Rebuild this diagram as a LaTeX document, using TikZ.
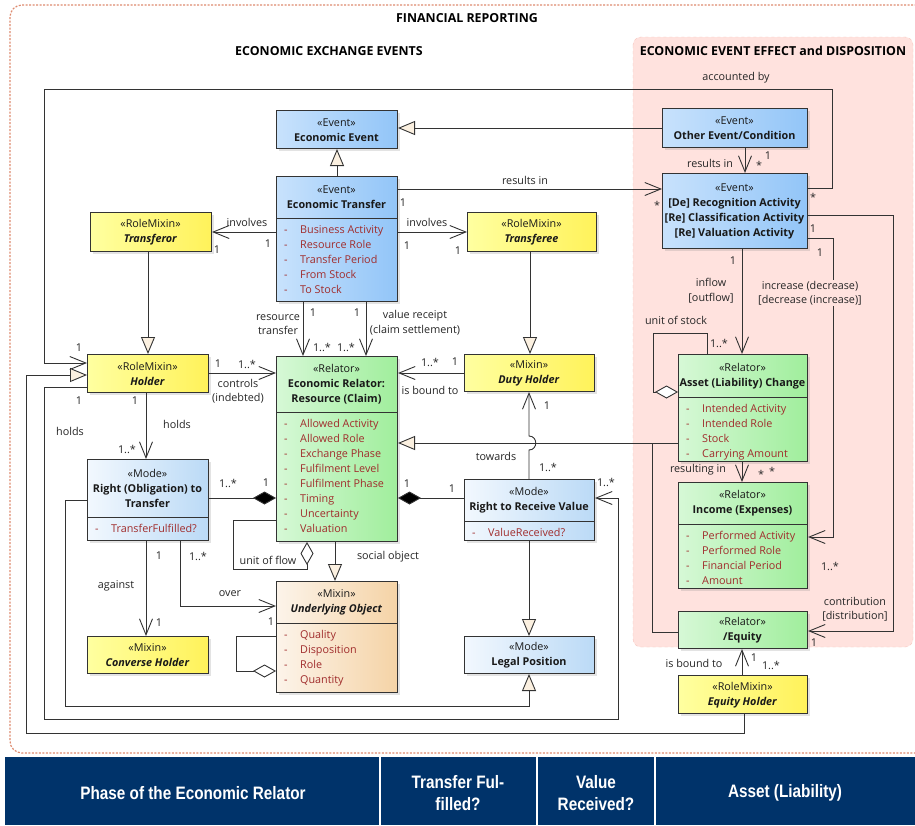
\documentclass[tikz,border=0pt]{standalone}
\usepackage{fontspec}
\setmainfont{Open Sans}
\newfontfamily\bannerfont[FakeStretch=0.85]{Liberation Sans}
\usetikzlibrary{arrows.meta,shadows,calc}
\definecolor{evL}{HTML}{C8E2FC}
\definecolor{evR}{HTML}{92C5F8}
\definecolor{moL}{HTML}{F2F8FE}
\definecolor{moR}{HTML}{BBDAF6}
\definecolor{yeL}{HTML}{FFFFA0}
\definecolor{yeR}{HTML}{FFF25A}
\definecolor{grL}{HTML}{D6F8D6}
\definecolor{grR}{HTML}{A0EE9C}
\definecolor{beL}{HTML}{FCF4EA}
\definecolor{beR}{HTML}{F5D3A6}
\definecolor{genfill}{HTML}{FBF0E0}
\definecolor{attrred}{HTML}{A02C2C}
\definecolor{lnc}{HTML}{333333}
\definecolor{pinkbg}{HTML}{FFE2DE}
\definecolor{pinkbd}{HTML}{F6C4BC}
\definecolor{outerdash}{HTML}{DE8B6F}
\definecolor{navy}{HTML}{00336A}
\newcommand{\st}[1]{«#1»}
\newcommand{\attr}[1]{\makebox[16pt][l]{-}#1}
\newcommand{\lbl}[4]{\node[lbl] (#1) at (#2,#3) {#4};}
\newcommand{\umlbox}[7]{%
  \node[#2, anchor=north west, minimum width=#5-#3, minimum height=#6-#4] (#1) at (#3,#4) {};
  \node[boxtext] (#1-t) at ({(#3+#5)/2},{(#4+#6)/2+1}) {#7};}
\newcommand{\umlclass}[9]{%
  \node[#2, anchor=north west, minimum width=#5-#3, minimum height=#6-#4] (#1) at (#3,#4) {};
  \draw[boxline] (#3,#7) -- (#5,#7);
  \node[boxtext] (#1-h) at ({(#3+#5)/2},{(#4+#7)/2+0.5}) {#8};
  \node[attrtext, anchor=base west] (#1-a) at ({#3+8},{#7+15.5}) {\begin{tabular}[t]{@{}l@{}}#9\end{tabular}};}
\begin{document}
\begin{tikzpicture}[x=1pt,y=-1pt,
  box/.style={draw=black!80, line width=1pt, inner sep=0pt,
    drop shadow={opacity=0.22, shadow xshift=2pt, shadow yshift=-2pt}},
  boxline/.style={draw=black!80, line width=1pt},
  eventbox/.style={box, left color=evL, right color=evR},
  modebox/.style={box, left color=moL, right color=moR},
  rolebox/.style={box, left color=yeL, right color=yeR},
  relbox/.style={box, left color=grL, right color=grR},
  objbox/.style={box, left color=beL, right color=beR},
  boxtext/.style={font=\fontsize{10.8}{15}\selectfont, align=center, inner sep=0pt, text=black!90},
  attrtext/.style={font=\fontsize{10.8}{15}\selectfont, inner sep=0pt, text=attrred},
  lbl/.style={font=\fontsize{10.8}{14.5}\selectfont, inner sep=0pt, text=black!85, align=center},
  ttl/.style={font=\fontsize{12.4}{15}\selectfont\bfseries, inner sep=0pt},
  conn/.style={draw=lnc, line width=0.9pt},
  assoc/.style={conn, -{Straight Barb[length=16pt, width=13pt]}},
  gen/.style={conn, -{Triangle[length=17pt, width=14pt, fill=genfill]}},
  comp/.style={conn, -{Diamond[length=23pt, width=13pt, fill=black]}},
  aggr/.style={conn, -{Diamond[length=23pt, width=13pt, fill=white]}},
  bannertext/.style={font=\bannerfont\bfseries\fontsize{18}{22}\selectfont, text=white, align=center, inner sep=0pt}
]
\path[use as bounding box] (0,0) rectangle (915,825);
\clip (0,0) rectangle (915,825);
\fill[white] (0,0) rectangle (915,825);
% regions
\path[fill=pinkbg, draw=pinkbd, dashed, rounded corners=8] (633,37) rectangle (913,647);
\draw[outerdash, line width=1.2pt, dash pattern=on 2pt off 1.5pt, rounded corners=12] (10,5) rectangle (935,753);
\node[ttl] (t1) at (467,18) {FINANCIAL REPORTING};
\node[ttl] (t2) at (329,51) {ECONOMIC EXCHANGE EVENTS};
\node[ttl] (t3) at (773,51) {ECONOMIC EVENT EFFECT and DISPOSITION};
% boxes
\umlbox{ee}{eventbox}{276}{110}{397}{148}{\st{Event}\\\textbf{Economic Event}}
\umlclass{tr}{eventbox}{276}{176}{397}{301}{218}{\st{Event}\\\textbf{Economic Transfer}}{\attr{Business Activity}\\\attr{Resource Role}\\\attr{Transfer Period}\\\attr{From Stock}\\\attr{To Stock}}
\umlbox{tor}{rolebox}{90}{212}{211}{251}{\st{RoleMixin}\\\textbf{\textit{Transferor}}}
\umlbox{tee}{rolebox}{467}{212}{596}{251}{\st{RoleMixin}\\\textbf{\textit{Transferee}}}
\umlbox{hol}{rolebox}{87}{354}{208}{392}{\st{RoleMixin}\\\textbf{\textit{Holder}}}
\umlclass{rel}{relbox}{276}{356}{397}{541}{412}{\st{Relator}\\\textbf{Economic Relator:}\\\textbf{Resource (Claim)}}{\attr{Allowed Activity}\\\attr{Allowed Role}\\\attr{Exchange Phase}\\\attr{Fulfilment Level}\\\attr{Fulfilment Phase}\\\attr{Timing}\\\attr{Uncertainty}\\\attr{Valuation}}
\umlbox{duty}{rolebox}{464}{354}{594}{391}{\st{Mixin}\\\textbf{\textit{Duty Holder}}}
\umlclass{rot}{modebox}{87}{459}{208}{540}{517}{\st{Mode}\\\textbf{Right (Obligation) to}\\\textbf{Transfer}}{\attr{TransferFulfilled?}}
\umlclass{rrv}{modebox}{464}{479}{594}{540}{521}{\st{Mode}\\\textbf{Right to Receive Value}}{\attr{ValueReceived?}}
\umlclass{uo}{objbox}{276}{581}{397}{692}{623}{\st{Mixin}\\\textbf{\textit{Underlying Object}}}{\attr{Quality}\\\attr{Disposition}\\\attr{Role}\\\attr{Quantity}}
\umlbox{ch}{rolebox}{87}{636}{208}{673}{\st{Mixin}\\\textbf{\textit{Converse Holder}}}
\umlbox{lp}{modebox}{464}{636}{594}{673}{\st{Mode}\\\textbf{Legal Position}}
\umlbox{oth}{eventbox}{662}{108}{807}{147}{\st{Event}\\\textbf{Other Event/Condition}}
\umlbox{rec}{eventbox}{662}{173}{807}{248}{\st{Event}\\\textbf{[De] Recognition Activity}\\\textbf{[Re] Classification Activity}\\\textbf{[Re] Valuation Activity}}
\umlclass{alc}{relbox}{678}{354}{807}{461}{397}{\st{Relator}\\\textbf{Asset (Liability) Change}}{\attr{Intended Activity}\\\attr{Intended Role}\\\attr{Stock}\\\attr{Carrying Amount}}
\umlclass{inc}{relbox}{678}{482}{807}{588}{524}{\st{Relator}\\\textbf{Income (Expenses)}}{\attr{Performed Activity}\\\attr{Performed Role}\\\attr{Financial Period}\\\attr{Amount}}
\umlbox{eq}{relbox}{678}{611}{807}{648}{\st{Relator}\\\textbf{/Equity}}
\umlbox{eqh}{rolebox}{678}{675}{807}{713}{\st{RoleMixin}\\\textbf{\textit{Equity Holder}}}
% connectors
\draw[assoc] (rec.east |- 0,188) -- (832,188) -- (832,89) -- (44,89) -- (44,363) -- (hol.west |- 0,363);
\draw[gen] (oth.west) -- (oth.west -| ee.east);
\draw[gen] (tr.north) -- (ee.south);
\draw[assoc] (tr.east |- 0,189) -- (rec.west |- 0,189);
\draw[assoc] (745,0 |- oth.south) -- (745,0 |- rec.north);
\draw[assoc] (tr.west |- 0,232) -- (tor.east |- 0,232);
\draw[assoc] (tr.east |- 0,232) -- (tee.west |- 0,232);
\draw[gen] (148,0 |- tor.south) -- (148,0 |- hol.north);
\draw[gen] (530,0 |- tee.south) -- (530,0 |- duty.north);
\draw[assoc] (303,0 |- tr.south) -- (303,0 |- rel.north);
\draw[assoc] (366,0 |- tr.south) -- (366,0 |- rel.north);
\draw[assoc] (hol.east |- 0,373) -- (rel.west |- 0,373);
\draw[assoc] (duty.west |- 0,373) -- (rel.east |- 0,373);
\draw[assoc] (146,0 |- hol.south) -- (146,0 |- rot.north);
\draw[gen] (744,0 |- eqh.south) -- (744,733) -- (26,733) -- (26,375) -- (hol.west |- 0,375);
\draw[assoc] (hol.west |- 0,387) -- (44,387) -- (44,719) -- (618,719) -- (618,498) -- (rrv.east |- 0,498);
\draw[gen] (rot.west |- 0,500) -- (65,500) -- (65,706) -- (529,706) -- (529,0 |- lp.south);
\draw[gen] (529,0 |- rrv.south) -- (529,0 |- lp.north);
\draw[assoc] (529,0 |- rrv.north) -- (529,450) .. controls (538,450) and (538,436) .. (529,436) -- (529,0 |- duty.south);
\draw[gen] (alc.west |- 0,443) -- (rel.east |- 0,443);
\draw[conn] (eq.west |- 0,632) -- (652,632) -- (652,443);
\draw[assoc] (742,0 |- rec.south) -- (742,0 |- alc.north);
\draw[aggr] (707,0 |- alc.north) -- (707,333) -- (653,333) -- (653,392) -- (alc.west |- 0,392);
\draw[assoc] (742,0 |- alc.south) -- (742,0 |- inc.north);
\draw[assoc] (rec.east |- 0,238) -- (833,238) -- (833,537) -- (inc.east |- 0,537);
\draw[assoc] (rec.east |- 0,215) -- (893,215) -- (893,631) -- (eq.east |- 0,631);
\draw[assoc] (742,0 |- eqh.north) -- (742,0 |- eq.south);
\draw[comp] (rot.east |- 0,498) -- (rel.west |- 0,498);
\draw[comp] (rrv.west |- 0,498) -- (rel.east |- 0,498);
\draw[aggr] (rel.west |- 0,520) -- (233,520) -- (233,569) -- (307,569) -- (307,0 |- rel.south);
\draw[gen] (335,0 |- rel.south) -- (335,0 |- uo.north);
\draw[assoc] (146,0 |- rot.south) -- (146,0 |- ch.north);
\draw[assoc] (180,0 |- rot.south) -- (180,606) -- (uo.west |- 0,606);
\draw[aggr] (uo.west |- 0,636) -- (236,636) -- (236,671) -- (uo.west |- 0,671);
% labels
\lbl{l1}{736}{78}{accounted by}
\lbl{l2}{525}{180}{results in}
\lbl{l3}{403}{203}{1}
\lbl{l4}{657}{205}{*}
\lbl{l5}{710}{163}{results in}
\lbl{l6}{759}{165}{*}
\lbl{l7}{768}{156}{1}
\lbl{l8}{813}{197}{*}
\lbl{l9}{247}{222}{involves}
\lbl{l10}{268}{244}{1}
\lbl{l11}{217}{250}{1}
\lbl{l12}{427}{222}{involves}
\lbl{l13}{407}{246}{1}
\lbl{l14}{458}{251}{1}
\lbl{l15}{278}{324.5}{resource\\transfer}
\lbl{l16}{313}{313}{1}
\lbl{l17}{357}{313}{1}
\lbl{l18}{322}{347}{1..*}
\lbl{l19}{346}{347}{1..*}
\lbl{l20}{415}{322.5}{value receipt\\(claim settlement)}
\lbl{l21}{218}{364}{1}
\lbl{l22}{247}{364}{1..*}
\lbl{l23}{238}{391}{controls\\(indebted)}
\lbl{l24}{430}{362}{1..*}
\lbl{l25}{455}{362}{1}
\lbl{l26}{430}{390}{is bound to}
\lbl{l27}{79}{348}{1}
\lbl{l28}{79}{401}{1}
\lbl{l29}{135}{401}{1}
\lbl{l30}{177}{424}{holds}
\lbl{l31}{70}{431}{holds}
\lbl{l32}{127}{449}{1..*}
\lbl{l33}{228}{483}{1..*}
\lbl{l34}{266}{483}{1}
\lbl{l35}{407}{484}{1}
\lbl{l36}{452}{489}{1}
\lbl{l37}{496}{456}{towards}
\lbl{l38}{548}{467}{1..*}
\lbl{l39}{547}{406}{1}
\lbl{l40}{606}{482}{1..*}
\lbl{l41}{268}{560}{unit of flow}
\lbl{l42}{388}{557}{social object}
\lbl{l43}{159}{556}{1}
\lbl{l44}{198}{556}{1..*}
\lbl{l45}{116}{586}{against}
\lbl{l46}{230}{594}{over}
\lbl{l47}{159}{623}{1}
\lbl{l48}{271}{622}{1}
\lbl{l49}{733}{261}{1}
\lbl{l50}{711}{290.5}{inflow\\{[outflow]}}
\node[lbl, fill=pinkbg, inner sep=1pt] (l51) at (810,293) {increase (decrease)\\{[decrease (increase)]}};
\lbl{l52}{813}{229}{1}
\lbl{l53}{820}{253}{1}
\lbl{l54}{676}{320}{unit of stock}
\lbl{l55}{719}{343}{1..*}
\lbl{l56}{698}{470}{resulting in}
\lbl{l57}{761}{474}{*}
\lbl{l58}{772}{471}{*}
\lbl{l59}{830}{566}{1..*}
\node[lbl, fill=pinkbg, inner sep=1pt] (l60) at (855,609) {contribution\\{[distribution]}};
\lbl{l61}{814}{643}{1}
\lbl{l62}{694}{663}{is bound to}
\lbl{l63}{754}{658}{1}
\lbl{l64}{771}{665}{1..*}
% bottom banner
\fill[navy] (5,757) rectangle (915,825);
\draw[white, line width=2pt] (380,757) -- (380,825) (537,757) -- (537,825) (655,757) -- (655,825);
\node[bannertext] (b1) at (193,793) {Phase of the Economic Relator};
\node[bannertext] (b2) at (458,793) {Transfer Ful-\\filled?};
\node[bannertext] (b3) at (596,793) {Value\\Received?};
\node[bannertext] (b4) at (785,793) {Asset (Liability)};
\end{tikzpicture}
\end{document}
